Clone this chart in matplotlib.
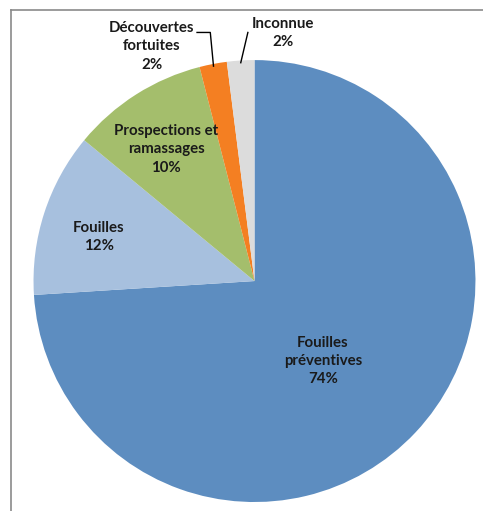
import numpy as np
import matplotlib.pyplot as plt
from matplotlib.lines import Line2D

#%% data
categories = ['Fouilles\npréventives', 'Fouilles', 'Prospections et\nramassages',
              'Découvertes\nfortuites', 'Inconnue']
values = [74, 12, 10, 2, 2]
colors = ['#5D8DC0', '#A7C0DE', '#A4BE6C', '#F47F22', '#DCDCDC']

# label centres (data units, pie radius = 1)
label_pos = [(0.31, -0.362), (-0.704, 0.199), (-0.40, 0.597),
             (-0.464, 1.063), (0.129, 1.122)]

#%% plot
plt.rcParams['font.family'] = ['Lato', 'DejaVu Sans']
fig = plt.figure(figsize=(4.83, 5.11), dpi=100)
ax = fig.add_axes([0.527 - 0.4576, 0.450 - 0.4325, 0.915, 0.865])

wedges, _ = ax.pie(values, colors=colors, startangle=90, counterclock=False,
                   radius=1, wedgeprops=dict(linewidth=0))
ax.set_xlim(-1, 1)
ax.set_ylim(-1, 1)
ax.set_aspect('equal')
ax.axis('off')

total = sum(values)
for cat, v, (x, y) in zip(categories, values, label_pos):
    pct = '%d%%' % round(100 * v / total)
    ax.text(x, y, cat + '\n' + pct, ha='center', va='center', fontsize=10.8,
            fontweight='bold', color='#1a1a1a', linespacing=1.4,
            clip_on=False)

# leader lines for the two small slices
elbows = {3: [(-0.26, 1.125), (-0.20, 1.125)], 4: [(-0.03, 1.125)]}
for i, pts in elbows.items():
    w = wedges[i]
    mid = np.deg2rad((w.theta1 + w.theta2) / 2)
    px, py = np.cos(mid) * 0.99, np.sin(mid) * 0.99
    xs = [p[0] for p in pts] + [px]
    ys = [p[1] for p in pts] + [py]
    ax.plot(xs, ys, color='black', linewidth=1, clip_on=False)

# frame
fig.add_artist(Line2D([0.023, 1.0], [0.980, 0.980], color='#8a8a8a', linewidth=1.2))
fig.add_artist(Line2D([0.023, 0.023], [0.0, 0.980], color='#8a8a8a', linewidth=1.2))

plt.savefig('out.png', dpi=100)
